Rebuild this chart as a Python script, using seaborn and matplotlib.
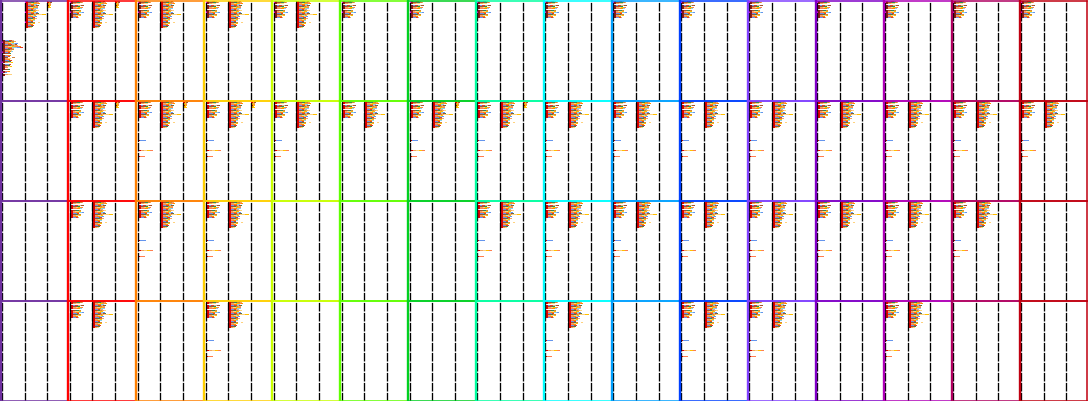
import matplotlib
matplotlib.use("Agg")
import matplotlib.pyplot as plt
import pandas as pd
import seaborn as sns

# border colour of the 16 panel columns
PANEL_COLORS = ["#7030a0", "#ff0000", "#ff8000", "#ffd000", "#c8ff00", "#60ff00",
                "#00d020", "#00ffa0", "#00ffff", "#00a0ff", "#0040ff", "#8040ff",
                "#8000c8", "#b000b8", "#b00060", "#c00010"]

# what sits in each of the three sub columns of every panel (4 rows x 16 columns)
# w = wide cluster, t = top cluster, l = top cluster + lower bits, . = empty
SUB0 = ["wttttttttttttttt",
        ".tllltllllllllll",
        ".tll...llllllll.",
        ".t.l....l.ll.l.."]
SUB1 = ["1111100000000000",
        "0111111111111111",
        "0111000111111110",
        "0101000010110100"]
SUB2 = ["1100000000000000",
        "0111001100000000",
        "0000000000000000",
        "0000000000000000"]

# segment lengths (px) of the stacked bars, one list per bar row; negative = gap
TOP_Y = [1, 2, 3, 4, 5, 6, 7, 8, 9, 10, 11, 12, 13, 14, 15, 16, 17]
TOP_SEGS = [[1, 2, 3, 3, 2], [1, 2, 4, 3, 2, 1], [1, 2, 3, 4], [],
            [1, 2, 2, 3, 3, 3], [1, 2, 4, 3], [1, 2, 3, 2, 3, 2], [1, 2, 4, 3, 2],
            [], [1, 2, 3, 3, 2], [1, 2, 2, 4, 2], [1, 2, 3, 3, 3, 2],
            [1, 2, 4, 2], [1, 2, 3, 2, 3], [1, 2, 3, 3, 2], [1, 2, 2, 3],
            [1, 2, 3, 2, 1]]

BIG_Y = [1, 2, 3, 4, 5, 6, 7, 8, 9, 10, 11, 12, 13, 14, 15, 16, 17, 18, 19,
         20, 21, 22, 23, 24, 25, 26, 27]
BIG_SEGS = [[1, 2, 3, 3, 2, 2], [1, 2, 3, 3, 3, 2], [1, 2, 3, 2, 3, 2, 2],
            [1, 2, 3, 3, 3], [1, 2, 3, 3, 2, 2, 1], [1, 2, 3, 2, 2, 3],
            [1, 2, 2, 3, 3, 2], [1, 2, 3, 3, 4], [1, 2, 3, 2, 3],
            [1, 2, 3, 2, 2, 2, 2], [1, 2, 2, 3, 3], [1, 2, 3, 3, 2, 2],
            [1, 2, 3, 3, 2, 2, 1], [1, 2, 3, 2, 2, 2, 5, 4], [1, 2, 3, 3, 2],
            [1, 2, 2, 3, 2, 2], [1, 2, 4, 3], [1, 2, 3, 2, 2, 2],
            [1, 2, 3, 2, 2], [1, 2, 2, 3, 2], [1, 2, 3, 2],
            [1, 2, 3, 2, 2, -3, 2], [1, 2, 3, 2, 2], [1, 2, 2, 3],
            [1, 2, 3, 3], [1, 2, 3, 2], [1, 2, 2, 2]]

LOW_Y = [40, 41, 50, 56, 63]
LOW_SEGS = [[1, 1, 6], [1], [1, 2, 3, 3, 3, 3], [1, 1, 5], [1]]

WIDE_Y = [40, 41, 42, 43, 44, 45, 46, 47, 48, 49, 50, 51, 52, 53, 54, 55,
          56, 57, 58, 59, 60, 61, 62, 63, 64, 65, 66, 67, 68, 69, 70, 71,
          72, 73, 74, 75]
WIDE_SEGS = [[1, 2, 4, 3, 2], [1, 2, 3, 3, 3, 2], [1, 2, 4, 3, 2],
             [1, 2, 3, 3, 4, 3], [1, 2, 3, 4, 3, 2], [1, 2, 4, 2, 3, 4],
             [1, 2, 3, 4, 3, 4, 2], [1, 2, 4, 3, 5, 3, 4], [1, 2, 3, 4, 2],
             [1, 2, 3, 2, 4], [1, 2, 4, 3], [1, 2, 3, 3, 2], [1, 2, 3, 2],
             [1, 2, 4, 2], [], [1, 2, 3, 3], [1, 2, 3, 2], [1, 2, 3, -4, 3],
             [1, 2, 3, 3], [1, 2, 3, 2], [1, 2, 4, 3], [1, 2, 3, 3],
             [1, 2, 3, 3, 2], [], [1, 2, 4, 2], [1, 2, 3, 2], [1, 2, 2, 3, 2],
             [1, 2, 3], [1, 2], [1, 2, 3, 2], [], [1, 2, 3, 2], [1, 2, 2],
             [], [1, 2, 3, 4], [1, 2]]

TINY_Y = [1, 2, 3, 4, 5, 6, 7]
TINY_SEGS = [[1, 2, 2], [2, 1, 2], [1, 1, 2], [1, 2, 1], [2, 2], [1, 2], [1, 3]]

SEG_COLORS = ["#ff8c00", "#a0522d", "#ffc000", "#e03c31", "#f4a460", "#87ceeb",
              "#2e8b57", "#ff7f50", "#d2b48c", "#ffd27f", "#6495ed", "#cd853f"]

SUB_W = 68 / 3   # px width of a sub column


def cluster_rows(ys, segs, lead, second):
    rows = []
    for i, (y, seg) in enumerate(zip(ys, segs)):
        cum = 0
        parts = []
        for k, w in enumerate(seg):
            if k == 0:
                col = lead
            elif k == 1:
                col = second
            elif w < 0:
                col = "#ffffff"
            else:
                col = SEG_COLORS[(3 * i + 5 * k) % len(SEG_COLORS)]
            cum += abs(w)
            parts.append((cum, col))
        rows.append((y, parts))
    return rows


def draw_sub(ax, rows):
    n_layers = max(len(p) for _, p in rows)
    for k in reversed(range(n_layers)):
        recs = []
        for y, parts in rows:
            if k < len(parts):
                recs.append({"y": y, "right": parts[k][0], "color": parts[k][1]})
            else:
                recs.append({"y": y, "right": 0.0, "color": "#ffffff"})
        df = pd.DataFrame(recs)
        pal = {c: c for c in df["color"].unique()}
        sns.barplot(data=df, x="right", y="y", hue="color", palette=pal,
                    orient="h", native_scale=True, dodge=False, width=1.0,
                    errorbar=None, legend=False, saturation=1, linewidth=0,
                    antialiased=False, ax=ax)


def main():
    sns.set_style("white")
    plt.rcParams["lines.scale_dashes"] = False

    fig = plt.figure(figsize=(10.88, 4.01), dpi=100)
    gs = fig.add_gridspec(4, 48, left=0.5 / 1088, right=1 - 0.5 / 1088,
                          top=1 - 0.5 / 401, bottom=0.5 / 401,
                          wspace=0, hspace=0)

    for r in range(4):
        for c in range(16):
            for s in range(3):
                ax = fig.add_subplot(gs[r, 3 * c + s])
                rows = []
                if s == 0:
                    kind = SUB0[r][c]
                    lead, second = ("#ff00ff", "#8b1a1a") if r == 0 else ("#111111", "#e00000")
                    if kind == "w":
                        rows += cluster_rows(WIDE_Y, WIDE_SEGS, lead, second)
                    if kind in "tl":
                        rows += cluster_rows(TOP_Y, TOP_SEGS, lead, second)
                    if kind == "l":
                        rows += cluster_rows(LOW_Y, LOW_SEGS, "#111111", "#e00000")
                elif s == 1 and SUB1[r][c] == "1":
                    lead = "#ff00ff" if (r, c) == (0, 0) else "#111111"
                    rows += cluster_rows(BIG_Y, BIG_SEGS, lead, "#e00000")
                elif s == 2 and SUB2[r][c] == "1":
                    rows += cluster_rows(TINY_Y, TINY_SEGS, "#e00000", "#ffc000")
                rows = [(y, p) for y, p in rows if p]
                if rows:
                    draw_sub(ax, rows)
                ax.axvline(0, color="black", lw=0.95, linestyle=(0, (6.2, 1.0)),
                           zorder=3)
                ax.set_xlim(-1.4, SUB_W - 1.4)
                ax.set_ylim(100, 0)
                ax.set(xlabel="", ylabel="", xticks=[], yticks=[])
                ax.axis("off")

            frame = fig.add_subplot(gs[r, 3 * c:3 * c + 3])
            frame.set_facecolor("none")
            frame.set_xticks([])
            frame.set_yticks([])
            frame.set_zorder(5)
            for side, sp in frame.spines.items():
                sp.set_visible(True)
                sp.set_color(PANEL_COLORS[c])
                sp.set_linewidth(1.7 if side == "left" else 1.1)

    fig.savefig("out.png", dpi=100, facecolor="white")


if __name__ == "__main__":
    main()
